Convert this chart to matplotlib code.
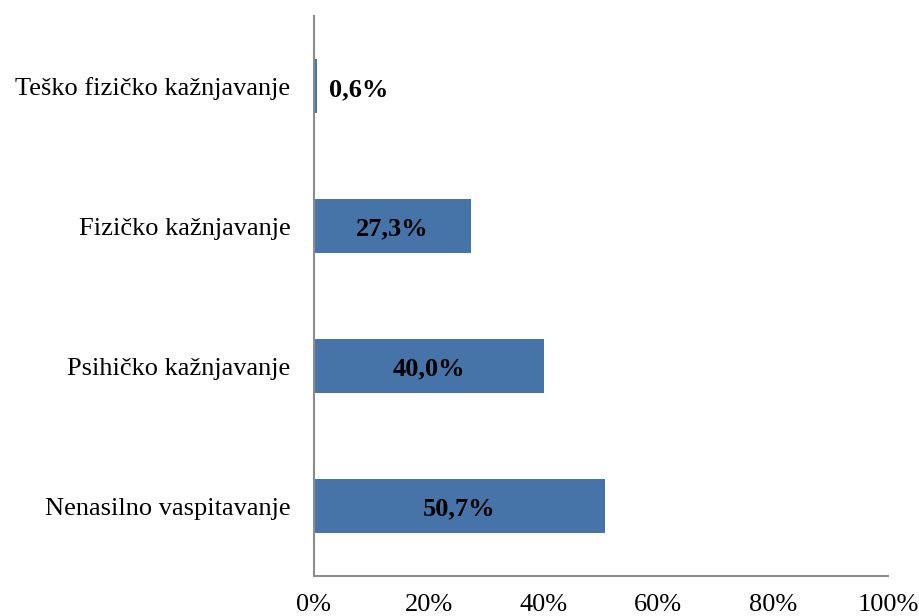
import matplotlib.pyplot as plt
from matplotlib.ticker import FuncFormatter

categories = ["Nenasilno vaspitavanje", "Psihičko kažnjavanje",
              "Fizičko kažnjavanje", "Teško fizičko kažnjavanje"]
values = [50.7, 40.0, 27.3, 0.6]
labels = ["50,7%", "40,0%", "27,3%", "0,6%"]

plt.rcParams['font.family'] = ['Liberation Serif', 'DejaVu Serif']

fig = plt.figure(figsize=(9.2, 6.16), dpi=100)
ax = fig.add_axes([0.3413, 0.0649, 0.6239, 0.9091])

ypos = range(len(categories))
ax.barh(ypos, values, height=0.39, color='#4674A9')

# small bar -> label outside, otherwise centred inside
for y, v, lab in zip(ypos, values, labels):
    if v < 5:
        ax.text(v + 2, y - 0.03, lab, va='center', ha='left', fontsize=19, fontweight='bold')
    else:
        ax.text(v / 2, y - 0.02, lab, va='center', ha='center', fontsize=19, fontweight='bold')

ax.set_xlim(0, 100)
ax.set_ylim(-0.5, 3.5)
ax.set_yticks(list(ypos))
ax.set_yticklabels(categories, fontsize=19)
ax.set_xticks([0, 20, 40, 60, 80, 100])
ax.xaxis.set_major_formatter(FuncFormatter(lambda x, p: f"{x:.0f}%"))
ax.tick_params(axis='x', labelsize=19, length=0, pad=13)
ax.tick_params(axis='y', length=0, pad=17)

for s in ['top', 'right']:
    ax.spines[s].set_visible(False)
for s in ['left', 'bottom']:
    ax.spines[s].set_color('#8c8c8c')
    ax.spines[s].set_linewidth(1.5)

fig.savefig("out.png", dpi=100)
